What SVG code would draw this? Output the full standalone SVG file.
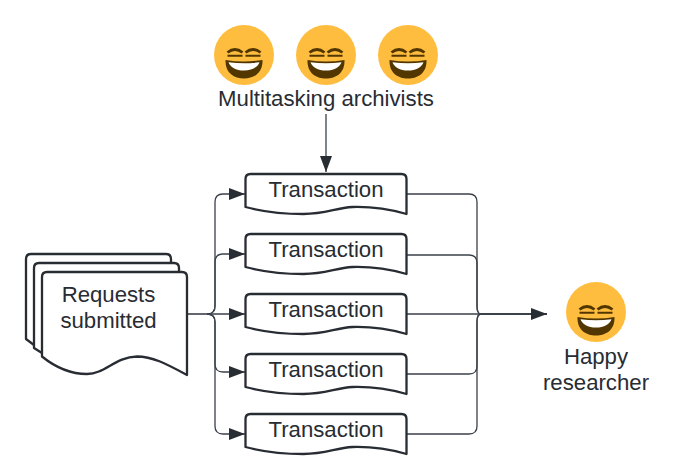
<svg xmlns="http://www.w3.org/2000/svg" width="674" height="476" viewBox="0 0 674 476">
<style>
text{font-family:"Liberation Sans",Arial,sans-serif;font-size:22.2px;fill:#282c33;text-anchor:middle}
.doc{fill:#fff;stroke:#282c33;stroke-width:2.3;stroke-linejoin:round}
.c{fill:none;stroke:#3a414a;stroke-width:1.3}
.face{fill:#ffbd3f}
.dark{fill:#523600}
.eye{fill:none;stroke:#523600;stroke-width:2.8}
.bar{fill:none;stroke:#523600;stroke-width:2}
</style>
<defs>
<marker id="a" markerUnits="userSpaceOnUse" markerWidth="17" markerHeight="12" refX="16" refY="6" orient="auto"><path d="M0 0L16 6L0 12Z" fill="#282c33"/></marker>
<g id="smile">
<circle class="face" r="30"/>
<path class="eye" d="M-16.500 -2.500Q-9 -8.500 -1.500 -2.500M16.500 -2.500Q9 -8.500 1.500 -2.500"/>
<path class="bar" d="M-16.500 0.800H-1.500M1.500 0.800H16.500"/>
<path class="dark" d="M-18.500 5Q0 8 18.500 5C19 18 10 23.500 0 23.500C-10 23.500 -19 18 -18.500 5Z"/>
<path d="M-15.500 7.200Q0 9.500 15.500 7.200C14 12 8 15.500 0 15.500C-8 15.500 -14 12 -15.500 7.200Z" fill="#fff"/>
</g>
<path id="tx" d="M0 5Q0 0 5 0H156Q161 0 161 5V40C140 34 125 32.500 107 33C90 34 80 40 58 40C35 40 15 37 0 33Z"/>
</defs>
<g id="connectors">
<path class="c" marker-end="url(#a)" d="M326 114V172"/>
<path class="c" style="stroke-width:1.600" d="M187 314H207"/>
<path class="c" marker-end="url(#a)" d="M207 314Q215 314 215 306V202Q215 194 223 194H245"/>
<path class="c" marker-end="url(#a)" d="M207 314Q215 314 215 306V262Q215 254 223 254H245"/>
<path class="c" marker-end="url(#a)" d="M207 314H245"/>
<path class="c" marker-end="url(#a)" d="M207 314Q215 314 215 322V364Q215 372 223 372H245"/>
<path class="c" marker-end="url(#a)" d="M207 314Q215 314 215 322V426Q215 434 223 434H245"/>
<path class="c" d="M407 194H469Q477 194 477 202V306Q477 314 481 314"/>
<path class="c" d="M407 255H469Q477 255 477 263V306Q477 314 481 314"/>
<path class="c" d="M407 314H481"/>
<path class="c" d="M407 374H469Q477 374 477 366V322Q477 314 481 314"/>
<path class="c" d="M407 434H469Q477 434 477 426V322Q477 314 481 314"/>
<path class="c" style="stroke-width:1.800" marker-end="url(#a)" d="M480 314H547"/>
</g>
<g id="archivist-1"><use href="#smile" x="244" y="55"/></g>
<g id="archivist-2"><use href="#smile" x="326" y="55"/></g>
<g id="archivist-3"><use href="#smile" x="408" y="55"/></g>
<g id="archivists-label"><text x="326" y="106">Multitasking archivists</text></g>
<g id="requests">
<path class="doc" d="M26 259Q26 254 31 254H166Q171 254 171 259V345H34L26 339Z"/>
<path class="doc" d="M34 268Q34 263 39 263H174Q179 263 179 268V353H42L34 348Z"/>
<path class="doc" d="M42 277Q42 272 47 272H182Q187 272 187 277V375C165 363 152 356.500 137 356.500C115 357 105 374 87 374C70 374 55 367 42 356.500Z"/>
<text x="108.500" y="302">Requests</text>
<text x="108.500" y="328">submitted</text>
</g>
<g id="transaction-1"><use href="#tx" x="245.500" y="174" class="doc"/><text x="326" y="197">Transaction</text></g>
<g id="transaction-2"><use href="#tx" x="245.500" y="234" class="doc"/><text x="326" y="257">Transaction</text></g>
<g id="transaction-3"><use href="#tx" x="245.500" y="294" class="doc"/><text x="326" y="317">Transaction</text></g>
<g id="transaction-4"><use href="#tx" x="245.500" y="354" class="doc"/><text x="326" y="377">Transaction</text></g>
<g id="transaction-5"><use href="#tx" x="245.500" y="414" class="doc"/><text x="326" y="437">Transaction</text></g>
<g id="researcher"><use href="#smile" x="596" y="312"/><text x="596" y="364">Happy</text><text x="596" y="390">researcher</text></g>
</svg>
